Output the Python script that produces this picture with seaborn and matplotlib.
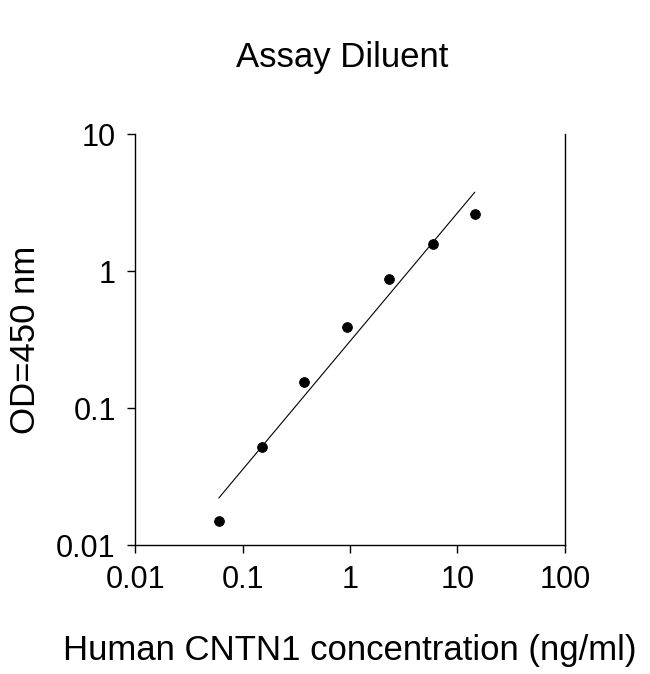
import numpy as np
import matplotlib
matplotlib.use('Agg')
import matplotlib.pyplot as plt
import seaborn as sns

sns.set_style('white')
plt.rcParams['font.family'] = ['Liberation Sans', 'DejaVu Sans']
plt.rcParams['text.color'] = 'black'
plt.rcParams['axes.labelcolor'] = 'black'

# data
conc = [0.06, 0.15, 0.37, 0.94, 2.3, 5.9, 14.5]
od = [0.015, 0.052, 0.155, 0.39, 0.87, 1.57, 2.6]

fig = plt.figure(figsize=(6.5, 6.74), dpi=100)
ax = fig.add_axes([0.208, 0.191, 0.661, 0.61])

# fit line in log-log space
p = np.polyfit(np.log10(conc), np.log10(od), 1)
xf = np.array([conc[0], conc[-1]])
yf = 10 ** np.polyval(p, np.log10(xf))
ax.plot(xf, yf, color='black', lw=0.8)

sns.scatterplot(x=conc, y=od, color='black', s=50, edgecolor='black', ax=ax, zorder=3)

ax.set_xscale('log')
ax.set_yscale('log')
ax.set_xlim(0.01, 100)
ax.set_ylim(0.01, 10)
ax.set_xticks([0.01, 0.1, 1, 10, 100])
ax.set_xticklabels(['0.01', '0.1', '1', '10', '100'])
ax.set_yticks([0.01, 0.1, 1, 10])
ax.set_yticklabels(['0.01', '0.1', '1', '10'])
ax.minorticks_off()
ax.tick_params(direction='out', length=6, width=1, labelsize=22, colors='black',
               bottom=True, left=True, pad=8)
for s in ['left', 'bottom', 'right']:
    ax.spines[s].set_color('black')
    ax.spines[s].set_linewidth(1)
ax.spines['top'].set_visible(False)

ax.set_xlabel('Human CNTN1 concentration (ng/ml)', fontsize=25, labelpad=28)
ax.set_ylabel('OD=450 nm', fontsize=25, labelpad=10)
fig.text(0.527, 0.915, 'Assay Diluent', fontsize=25, ha='center', va='center')

fig.savefig('out.png', dpi=100)
